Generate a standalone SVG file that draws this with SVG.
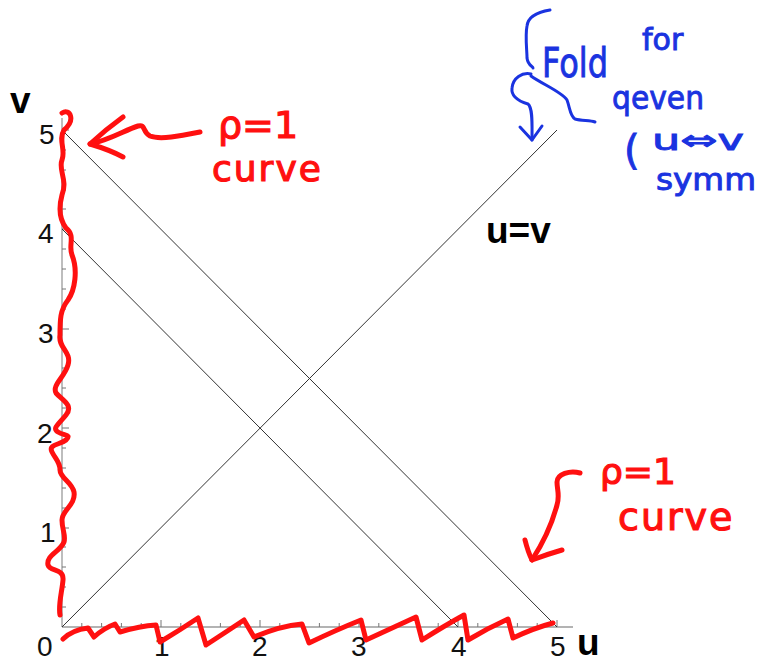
<svg xmlns="http://www.w3.org/2000/svg" width="764" height="662" viewBox="0 0 764 662">
<style>
.axis{stroke:#9a9a9a;stroke-width:1.3;fill:none}
.tick{stroke:#777;stroke-width:1}
.plot{stroke:#333;stroke-width:1;fill:none}
.num{font-family:"Liberation Sans",Arial,sans-serif;font-size:28px;fill:#111}
.lab{font-family:"Liberation Sans",Arial,sans-serif;font-weight:bold;font-size:37px;fill:#000}
.red{stroke:#ff1010;stroke-width:5;fill:none;stroke-linecap:round;stroke-linejoin:round}
.redt{font-family:"DejaVu Sans",sans-serif;fill:#ff1010;stroke:#ff1010;stroke-width:1.2}
.blue{stroke:#1a33e0;stroke-width:3;fill:none;stroke-linecap:round;stroke-linejoin:round}
.bluet{font-family:"DejaVu Sans",sans-serif;fill:#1a33e0;stroke:#1a33e0;stroke-width:0.9}
</style>
<rect width="764" height="662" fill="#fff"/>
<g id="axes">
<line class="axis" x1="62" y1="627" x2="62" y2="118"/>
<line class="axis" x1="62" y1="627" x2="573" y2="627"/>
<g class="tick">
<line x1="161" y1="627" x2="161" y2="620"/><line x1="260" y1="627" x2="260" y2="620"/><line x1="359" y1="627" x2="359" y2="620"/><line x1="458" y1="627" x2="458" y2="620"/><line x1="557" y1="627" x2="557" y2="620"/>
<line x1="62" y1="528" x2="69" y2="528"/><line x1="62" y1="428" x2="69" y2="428"/><line x1="62" y1="329" x2="69" y2="329"/><line x1="62" y1="229" x2="69" y2="229"/><line x1="62" y1="130" x2="69" y2="130"/>
<line x1="81.8" y1="627" x2="81.8" y2="623"/><line x1="101.6" y1="627" x2="101.6" y2="623"/><line x1="121.4" y1="627" x2="121.4" y2="623"/><line x1="141.2" y1="627" x2="141.2" y2="623"/>
<line x1="180.8" y1="627" x2="180.8" y2="623"/><line x1="200.6" y1="627" x2="200.6" y2="623"/><line x1="220.4" y1="627" x2="220.4" y2="623"/><line x1="240.2" y1="627" x2="240.2" y2="623"/>
<line x1="279.8" y1="627" x2="279.8" y2="623"/><line x1="299.6" y1="627" x2="299.6" y2="623"/><line x1="319.4" y1="627" x2="319.4" y2="623"/><line x1="339.2" y1="627" x2="339.2" y2="623"/>
<line x1="378.8" y1="627" x2="378.8" y2="623"/><line x1="398.6" y1="627" x2="398.6" y2="623"/><line x1="418.4" y1="627" x2="418.4" y2="623"/><line x1="438.2" y1="627" x2="438.2" y2="623"/>
<line x1="477.8" y1="627" x2="477.8" y2="623"/><line x1="497.6" y1="627" x2="497.6" y2="623"/><line x1="517.4" y1="627" x2="517.4" y2="623"/><line x1="537.2" y1="627" x2="537.2" y2="623"/>
<line x1="62" y1="607" x2="66" y2="607"/><line x1="62" y1="587" x2="66" y2="587"/><line x1="62" y1="567" x2="66" y2="567"/><line x1="62" y1="547" x2="66" y2="547"/>
<line x1="62" y1="508" x2="66" y2="508"/><line x1="62" y1="488" x2="66" y2="488"/><line x1="62" y1="468" x2="66" y2="468"/><line x1="62" y1="448" x2="66" y2="448"/>
<line x1="62" y1="408" x2="66" y2="408"/><line x1="62" y1="388" x2="66" y2="388"/><line x1="62" y1="368" x2="66" y2="368"/><line x1="62" y1="349" x2="66" y2="349"/>
<line x1="62" y1="309" x2="66" y2="309"/><line x1="62" y1="289" x2="66" y2="289"/><line x1="62" y1="269" x2="66" y2="269"/><line x1="62" y1="249" x2="66" y2="249"/>
<line x1="62" y1="209" x2="66" y2="209"/><line x1="62" y1="190" x2="66" y2="190"/><line x1="62" y1="170" x2="66" y2="170"/><line x1="62" y1="150" x2="66" y2="150"/>
</g>
<g class="num">
<text x="39" y="144">5</text><text x="38" y="243">4</text><text x="38" y="343">3</text><text x="37" y="443">2</text><text x="40" y="542">1</text>
<text x="37" y="656">0</text><text x="154" y="656">1</text><text x="252" y="656">2</text><text x="351" y="656">3</text><text x="451" y="656">4</text><text x="550" y="656">5</text>
</g>
<text class="lab" x="10" y="113">v</text>
<text class="lab" x="577" y="655">u</text>
</g>
<g id="lines">
<line class="plot" x1="62" y1="130" x2="557" y2="627"/>
<line class="plot" x1="62" y1="229" x2="458" y2="627"/>
<line class="plot" x1="62" y1="627" x2="557" y2="130"/>
<text class="lab" x="486" y="243">u=v</text>
</g>
<g id="red-annotations">
<path class="red" d="M62,113 C70,108 76,120 64,130 C58,140 66,150 62,160 C58,170 68,180 62,195 C58,210 60,220 66,228 C76,236 68,245 72,255 C78,270 75,290 68,300 C60,310 60,320 60,335 C58,348 72,352 68,365 C64,378 52,385 56,393 C62,400 74,405 66,415 C58,425 52,428 58,432 C64,436 72,434 66,440 C60,445 48,444 52,452 C56,460 60,462 60,470 C60,478 72,482 74,492 C76,505 62,510 62,520 C62,530 66,535 64,542 C60,552 46,555 48,565 C50,572 64,568 63,580 C62,592 58,605 60,615"/>
<path class="red" d="M63,639 Q72,630 88,628 L94,637 Q104,628 115,624 L120,632 Q140,626 156,625 L160,642 Q180,630 198,618 L206,645 Q226,632 244,620 L254,637 Q280,626 302,624 L309,643 Q336,630 361,620 L366,640 Q392,628 416,617 L422,640 Q444,626 464,615 L468,640 Q488,628 508,619 L513,638 Q534,628 553,623"/>
<path class="red" d="M200,132 C180,136 160,140 150,136 C142,132 146,124 138,126 C125,130 110,140 90,144"/>
<path class="red" d="M123,117 Q105,130 90,144 Q110,150 123,157"/>
<text class="redt" x="218" y="138" font-size="38">ρ=1</text>
<text class="redt" x="212" y="181" font-size="36" letter-spacing="2">curve</text>
<path class="red" d="M580,473 C570,470 557,474 557,482 C557,490 560,495 557,505 C553,520 545,540 532,560"/>
<path class="red" d="M525,540 Q528,552 532,560 Q548,554 562,550"/>
<text class="redt" x="600" y="484" font-size="36">ρ=1</text>
<text class="redt" x="618" y="530" font-size="38" letter-spacing="2">curve</text>
</g>
<g id="blue-annotations">
<path class="blue" d="M550,10 C538,12 528,16 527,26 C525,36 527,50 527,58 C528,66 533,66 533,68"/>
<path class="blue" d="M531,74 C522,72 513,78 512,88 C511,96 518,101 528,104 C533,108 532,125 532,140"/>
<path class="blue" d="M520,127 L532,140 L542,126"/>
<path class="blue" d="M531,76 C542,84 562,92 567,100 C570,108 570,116 575,119 C582,121 590,120 595,122"/>
<text class="bluet" x="542" y="77" font-size="40" textLength="66" lengthAdjust="spacingAndGlyphs">Fold</text>
<text class="bluet" x="642" y="50" font-size="30">for</text>
<text class="bluet" x="612" y="109" font-size="32" textLength="92" lengthAdjust="spacingAndGlyphs">qeven</text>
<text class="bluet" x="624" y="164" font-size="40">(</text>
<text class="bluet" x="652" y="150" font-size="28" textLength="92" lengthAdjust="spacingAndGlyphs">u⇔v</text>
<text class="bluet" x="656" y="190" font-size="30" textLength="100" lengthAdjust="spacingAndGlyphs">symm</text>
</g>
</svg>
